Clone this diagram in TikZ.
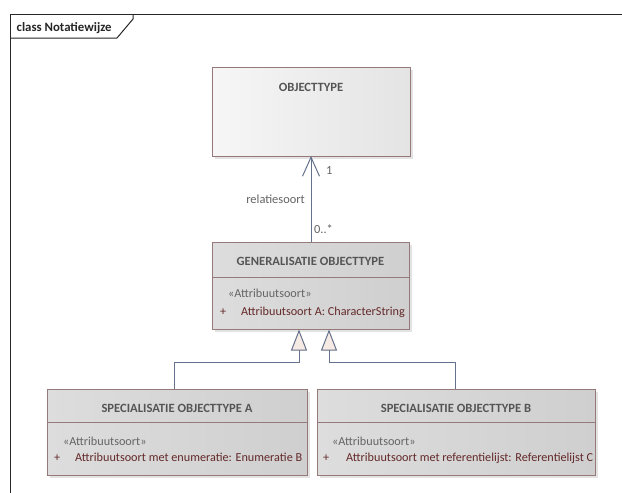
\documentclass[tikz,border=0pt]{standalone}
\usepackage{fontspec}
\setmainfont{Carlito}
\usetikzlibrary{arrows.meta,calc,shadows}
\definecolor{clsborder}{RGB}{150,122,122}
\definecolor{objleft}{RGB}{246,246,246}
\definecolor{objright}{RGB}{228,228,228}
\definecolor{clsleft}{RGB}{221,221,221}
\definecolor{clsright}{RGB}{207,207,207}
\definecolor{titletext}{RGB}{85,85,85}
\definecolor{stereotext}{RGB}{100,100,100}
\definecolor{attrtext}{RGB}{100,40,40}
\definecolor{labeltext}{RGB}{100,100,100}
\definecolor{conn}{RGB}{100,112,140}
\definecolor{trifill}{RGB}{246,234,228}
\tikzset{
  clsbox/.style={draw=clsborder, line width=0.9pt, rectangle, anchor=north west, inner sep=0pt,
    drop shadow={shadow xshift=3pt, shadow yshift=-3pt, fill=black!20, opacity=0.55}},
  objbox/.style={clsbox, left color=objleft, right color=objright},
  grybox/.style={clsbox, left color=clsleft, right color=clsright},
  clstitle/.style={font=\fontsize{12.6}{14}\selectfont\bfseries, text=titletext, inner sep=0pt, anchor=base},
  stereo/.style={font=\fontsize{12.2}{14}\selectfont, text=stereotext, inner sep=0pt, anchor=base west},
  attr/.style={font=\fontsize{12.2}{14}\selectfont, text=attrtext, inner sep=0pt, anchor=base west},
  lbl/.style={font=\fontsize{12.4}{14}\selectfont, text=labeltext, inner sep=0pt},
  sepline/.style={draw=clsborder, line width=0.9pt},
  assoc/.style={draw=conn, line width=1pt, -{Straight Barb[length=19pt,width=17pt,line width=1pt]}},
  genl/.style={draw=conn, line width=1pt, -{Triangle[length=21pt,width=16pt,fill=trifill,line width=1pt]}},
  framel/.style={draw=black!85, line width=1pt}
}
\begin{document}
\begin{tikzpicture}[x=1pt,y=-1pt]
\useasboundingbox (0,0) rectangle (622,493);
\fill[white] (0,0) rectangle (622,493);
% frame
\coordinate (ftl) at (10,14.5);
\coordinate (ftr) at (623,14.5);
\coordinate (fbl) at (10,494);
\coordinate (tab1) at (10,38);
\coordinate (tab2) at (117,38);
\coordinate (tab3) at (133,19);
\coordinate (tab4) at (133,14.5);
\draw[framel] (fbl) -- (ftl) -- (ftr);
\draw[framel] (tab1) -- (tab2) -- (tab3) -- (tab4);
\node[font=\fontsize{12.8}{14}\selectfont\bfseries, text=black!85, inner sep=0pt, anchor=base west] (ftitle) at (16.5,31) {class Notatiewijze};

% classes
\node[objbox, minimum width=198pt, minimum height=89pt] (obj) at (212,67) {};
\node[grybox, minimum width=197pt, minimum height=87pt] (gen) at (212,242) {};
\node[grybox, minimum width=260pt, minimum height=86pt] (sa) at (47,389) {};
\node[grybox, minimum width=278pt, minimum height=86pt] (sb) at (317,389) {};

\draw[sepline] ($(gen.north west)+(0,35)$) -- ($(gen.north east)+(0,35)$);
\draw[sepline] ($(sa.north west)+(0,33)$) -- ($(sa.north east)+(0,33)$);
\draw[sepline] ($(sb.north west)+(0,33)$) -- ($(sb.north east)+(0,33)$);

% texts
\node[clstitle] (objt) at (311,91) {OBJECTTYPE};
\node[clstitle] (gent) at (310.5,265.5) {GENERALISATIE OBJECTTYPE};
\node[stereo] (gens) at (228,297) {«Attribuutsoort»};
\node[attr] (genp) at (220,315) {+};
\node[attr] (gena) at (241,315) {Attribuutsoort A: CharacterString};

\node[clstitle] (sat) at (177,412.5) {SPECIALISATIE OBJECTTYPE A};
\node[stereo] (sas) at (63,445) {«Attribuutsoort»};
\node[attr] (sap) at (54,461) {+};
\node[attr] (saa) at (75,461) {Attribuutsoort met enumeratie: Enumeratie B};

\node[clstitle] (sbt) at (456,412.5) {SPECIALISATIE OBJECTTYPE B};
\node[stereo] (sbs) at (332,445) {«Attribuutsoort»};
\node[attr] (sbp) at (323,461) {+};
\node[attr] (sba) at (346,461) {Attribuutsoort met referentielijst: Referentielijst C};

% association
\coordinate (asB) at (311,242);
\coordinate (asT) at (311,156);
\draw[assoc] (asB) -- (asT);
\node[lbl, anchor=base east] (rel) at (305,203) {relatiesoort};
\node[lbl, anchor=base west] (m1) at (326,174) {1};
\node[lbl, anchor=base west] (m2) at (314,233) {0..*};

% generalizations
\coordinate (gA) at (299,329.5);
\coordinate (gB) at (329,329.5);
\coordinate (bA) at (299,362.5);
\coordinate (bB) at (329,362.5);
\coordinate (sAt) at (174,389);
\coordinate (sBt) at (455,389);
\draw[genl] (sAt) |- (bA) -- (gA);
\draw[genl] (sBt) |- (bB) -- (gB);
\end{tikzpicture}
\end{document}
